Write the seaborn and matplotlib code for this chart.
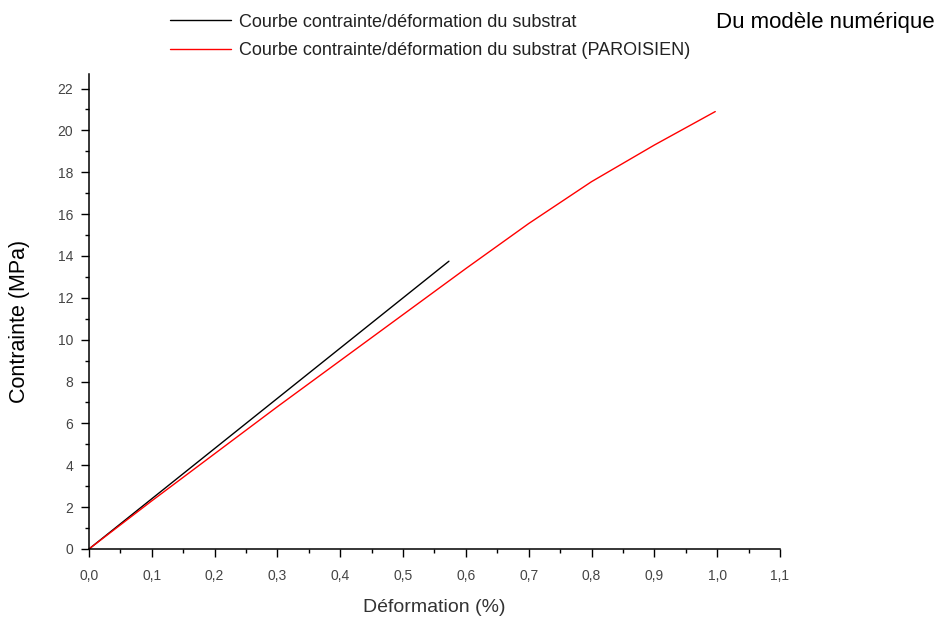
import numpy as np
import pandas as pd
import matplotlib
matplotlib.use('Agg')
from matplotlib import pyplot as plt
from matplotlib.ticker import MultipleLocator, FuncFormatter
import seaborn as sns

# black curve: numerical model
num_strain = [0.0, 0.1, 0.2, 0.3, 0.4, 0.5, 0.573]
num_stress = [0.0, 2.4, 4.8, 7.2, 9.6, 12.0, 13.75]

# red curve: PAROISIEN
par_strain = [0.0, 0.1, 0.2, 0.3, 0.4, 0.5, 0.6, 0.7, 0.8, 0.9, 0.997]
par_stress = [0.0, 2.3, 4.55, 6.8, 9.0, 11.2, 13.4, 15.55, 17.55, 19.3, 20.9]

lab_num = 'Courbe contrainte/déformation du substrat'
lab_par = 'Courbe contrainte/déformation du substrat (PAROISIEN)'

data = pd.concat([
    pd.DataFrame({'x': num_strain, 'y': num_stress, 'courbe': lab_num}),
    pd.DataFrame({'x': par_strain, 'y': par_stress, 'courbe': lab_par}),
], ignore_index=True)

sns.set_style('ticks')
plt.rcParams['font.family'] = ['Liberation Sans', 'DejaVu Sans']

fig = plt.figure(figsize=(9.5, 6.21), dpi=100)
ax = fig.add_axes([0.0937, 0.116, 0.7273, 0.765])

sns.lineplot(data=data, x='x', y='y', hue='courbe', sort=False, estimator=None,
             palette={lab_num: 'black', lab_par: 'red'}, linewidth=1.0, ax=ax)

ax.set_xlim(0, 1.1)
ax.set_ylim(0, 22.7)
ax.xaxis.set_major_locator(MultipleLocator(0.1))
ax.xaxis.set_minor_locator(MultipleLocator(0.05))
ax.yaxis.set_major_locator(MultipleLocator(2))
ax.yaxis.set_minor_locator(MultipleLocator(1))
ax.xaxis.set_major_formatter(FuncFormatter(lambda v, p: f'{v:.1f}'.replace('.', ',')))
ax.yaxis.set_major_formatter(FuncFormatter(lambda v, p: f'{v:.0f}'))

sns.despine(ax=ax)
for s in ['left', 'bottom']:
    ax.spines[s].set_linewidth(1.1)
    ax.spines[s].set_color('black')
ax.tick_params(which='major', direction='out', length=5.5, width=1.0, color='black',
               labelsize=10, labelcolor='#444444', pad=6)
ax.tick_params(axis='x', which='major', pad=9)
ax.tick_params(which='minor', direction='out', length=3, width=1.0, color='black')

ax.set_xlabel('Déformation (%)', fontsize=14, color='#333333', va='center')
ax.xaxis.set_label_coords(0.5, -0.124)
ax.set_ylabel('Contrainte (MPa)', fontsize=15.5, color='black', va='center')
ax.yaxis.set_label_coords(-0.1, 0.478)

ax.legend(loc='upper left', bbox_to_anchor=(0.179, 0.978), bbox_transform=fig.transFigure,
          frameon=False, fontsize=13, handlelength=3.4, handletextpad=0.4,
          labelspacing=0.62, borderpad=0, borderaxespad=0, labelcolor='#222222')
fig.text(0.754, 0.964, 'Du modèle numérique', fontsize=16, color='black', va='center', ha='left')

fig.savefig('out.png', dpi=100)
